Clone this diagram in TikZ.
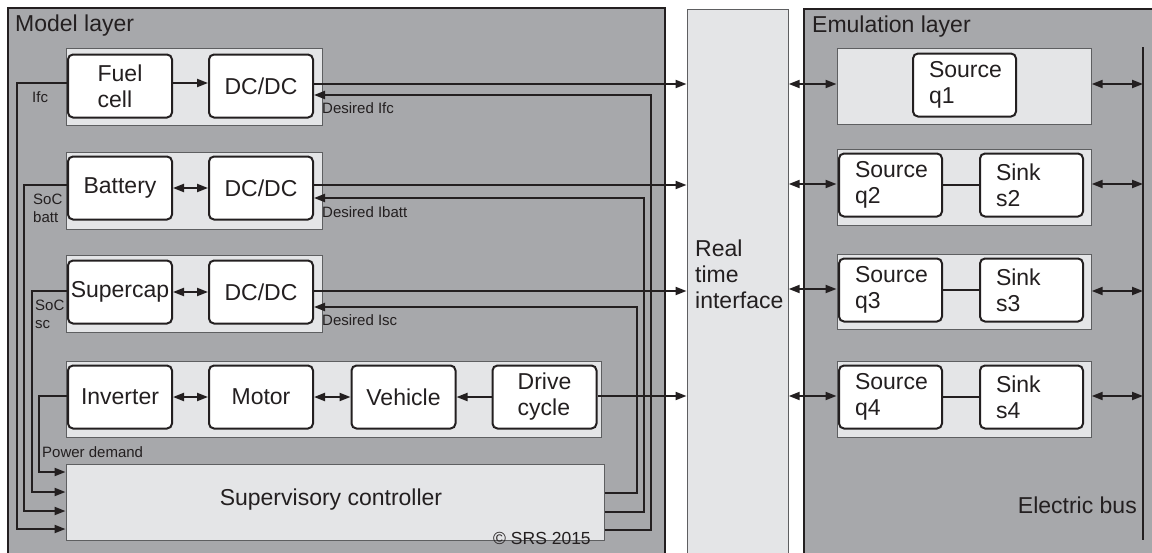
\documentclass[tikz,border=0pt]{standalone}
\usepackage{fontspec}
\setmainfont{Liberation Sans}
\usetikzlibrary{arrows.meta,calc}
\definecolor{dk}{HTML}{231F20}
\definecolor{layer}{HTML}{A7A8AB}
\definecolor{grp}{HTML}{E4E5E7}
\definecolor{grpline}{HTML}{5E5F61}
\begin{document}
\begin{tikzpicture}[x=1pt,y=-1pt,
  big/.style={font=\fontsize{23}{26}\selectfont,text=dk,inner sep=0pt},
  small/.style={font=\fontsize{15}{18}\selectfont,text=dk,inner sep=0pt,align=left},
  layerbox/.style={draw=dk,line width=1.5pt,fill=layer,anchor=north west,inner sep=0pt},
  grpbox/.style={draw=grpline,line width=1.2pt,fill=grp,anchor=north west,inner sep=0pt},
  blk/.style={draw=dk,line width=2pt,rounded corners=5pt,fill=white,minimum width=104pt,
    minimum height=63pt,inner sep=0pt,align=left,text=dk,font=\fontsize{23}{26}\selectfont},
  emb/.style={blk,text width=71pt,inner xsep=16pt,minimum width=0pt},
  conn/.style={draw=dk,line width=2pt},
  arr/.style={conn,-{Triangle[length=11pt,width=8pt]}},
  darr/.style={conn,{Triangle[length=11pt,width=8pt]}-{Triangle[length=11pt,width=8pt]}},
]
\useasboundingbox (0,0) rectangle (1152,552);
\clip (0,0) rectangle (1152,552);

% layers
\node[layerbox,minimum width=657pt,minimum height=560pt] (model) at (7,7) {};
\node[grpbox,minimum width=101pt,minimum height=560pt] (rti) at (686.5,8.5) {};
\node[layerbox,minimum width=360pt,minimum height=560pt] (emu) at (803,8) {};
\node[big,anchor=base west] (modellbl) at (15,31.5) {Model layer};
\node[big,anchor=base west] (emulbl) at (812,32) {Emulation layer};
\node[big,anchor=west,align=left] (rtilbl) at (695,274) {Real\\time\\interface};

% model groups
\node[grpbox,minimum width=256pt,minimum height=77pt] (g1) at (65.5,47.5) {};
\node[grpbox,minimum width=256pt,minimum height=77pt] (g2) at (65.5,151.5) {};
\node[grpbox,minimum width=256pt,minimum height=77pt] (g3) at (65.5,254.5) {};
\node[grpbox,minimum width=535pt,minimum height=76pt] (g4) at (65.5,360.5) {};
\node[grpbox,minimum width=538pt,minimum height=76pt] (ctrl) at (65.5,463.5) {};
\node[big] (ctrllbl) at (331,500) {Supervisory controller};

\node[blk] (fc) at (120,86) {Fuel\\cell};
\node[blk] (dc1) at (261,86) {DC/DC};
\node[blk] (bat) at (120,188) {Battery};
\node[blk] (dc2) at (261,188) {DC/DC};
\node[blk] (sc) at (120,292) {Supercap};
\node[blk] (dc3) at (261,292) {DC/DC};
\node[blk] (inv) at (120,397) {Inverter};
\node[blk] (mot) at (261,397) {Motor};
\node[blk] (veh) at (403.5,397) {Vehicle};
\node[blk] (drv) at (544.5,397) {Drive\\cycle};

% emulation groups
\node[grpbox,minimum width=254pt,minimum height=76pt] (e1) at (836.5,47.5) {};
\node[grpbox,minimum width=254pt,minimum height=76pt] (e2) at (836.5,148.5) {};
\node[grpbox,minimum width=254pt,minimum height=75pt] (e3) at (836.5,253.5) {};
\node[grpbox,minimum width=254pt,minimum height=76pt] (e4) at (836.5,360.5) {};
\node[emb] (q1) at (964.5,85) {Source\\q1};
\node[emb] (q2) at (890.5,185) {Source\\q2};
\node[emb] (s2) at (1031.5,185) {Sink\\s2};
\node[emb] (q3) at (890.5,290) {Source\\q3};
\node[emb] (s3) at (1031.5,290) {Sink\\s3};
\node[emb] (q4) at (890.5,397) {Source\\q4};
\node[emb] (s4) at (1031.5,397) {Sink\\s4};
\coordinate (bustop) at (1143,47);
\coordinate (busbot) at (1143,540);
\draw[conn] (bustop) -- (busbot);
\node[big,anchor=east] (buslbl) at (1137,505) {Electric bus};

% inner model connectors
\draw[arr] (fc.east |- 0,83) -- (dc1.west |- 0,83);
\draw[darr] (bat) -- (dc2);
\draw[darr] (sc) -- (dc3);
\draw[darr] (inv) -- (mot);
\draw[darr] (mot) -- (veh);
\draw[arr] (drv) -- (veh);

% outputs to real time interface
\draw[arr] (dc1.east |- 0,84) -- (rti.west |- 0,84);
\draw[arr] (dc2.east |- 0,185) -- (rti.west |- 0,185);
\draw[arr] (dc3.east |- 0,291) -- (rti.west |- 0,291);
\draw[arr] (drv.east |- 0,396) -- (rti.west |- 0,396);

% controller to DC/DC
\draw[arr] (ctrl.east |- 0,530) -| (651,95) -- (dc1.east |- 0,95);
\draw[arr] (ctrl.east |- 0,512) -| (644,198) -- (dc2.east |- 0,198);
\draw[arr] (ctrl.east |- 0,493) -| (637,307) -- (dc3.east |- 0,307);

% signals to controller
\draw[arr] (fc.west |- 0,83) -| (17,529) -- (ctrl.west |- 0,529);
\draw[arr] (bat.west |- 0,185) -| (24,511) -- (ctrl.west |- 0,511);
\draw[arr] (sc.west |- 0,291) -| (32,492) -- (ctrl.west |- 0,492);
\draw[arr] (inv.west |- 0,396) -| (39,472) -- (ctrl.west |- 0,472);

% labels
\node[small,anchor=west] (lifc) at (32,97) {Ifc};
\node[small,anchor=west] (lsocb) at (33,208) {SoC\\batt};
\node[small,anchor=west] (lsocs) at (35,314) {SoC\\sc};
\node[small,anchor=west] (lpd) at (42,452) {Power demand};
\node[small,anchor=west] (ldi1) at (322,108) {Desired Ifc};
\node[small,anchor=west] (ldi2) at (322,212) {Desired Ibatt};
\node[small,anchor=west] (ldi3) at (322,320) {Desired Isc};
\node[font=\fontsize{17.5}{20}\selectfont,text=dk,inner sep=0pt,anchor=west] (copy) at (493,538) {© SRS 2015};

% emulation connectors
\draw[darr] (rti.east |- 0,84) -- (e1.west |- 0,84);
\draw[darr] (rti.east |- 0,184) -- (e2.west |- 0,184);
\draw[darr] (rti.east |- 0,289) -- (e3.west |- 0,289);
\draw[darr] (rti.east |- 0,396) -- (e4.west |- 0,396);
\draw[conn] (q2) -- (s2);
\draw[conn] (q3) -- (s3);
\draw[conn] (q4) -- (s4);
\draw[darr] (e1.east |- 0,84) -- (bustop |- 0,84);
\draw[darr] (e2.east |- 0,184) -- (bustop |- 0,184);
\draw[darr] (e3.east |- 0,291) -- (bustop |- 0,291);
\draw[darr] (e4.east |- 0,396) -- (bustop |- 0,396);
\end{tikzpicture}
\end{document}
